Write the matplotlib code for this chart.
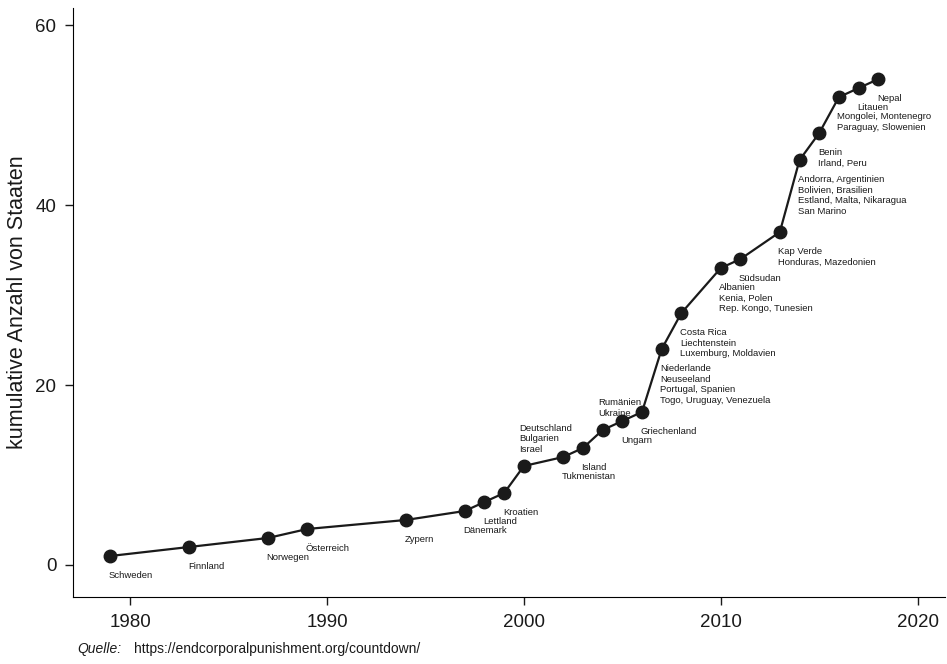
import matplotlib
matplotlib.use("Agg")
import matplotlib.pyplot as plt

# Jahr des Verbots und kumulative Anzahl der Staaten
years = [1979, 1983, 1987, 1989, 1994, 1997, 1998, 1999, 2000, 2002, 2003,
         2004, 2005, 2006, 2007, 2008, 2010, 2011, 2013, 2014, 2015, 2016,
         2017, 2018]
counts = [1, 2, 3, 4, 5, 6, 7, 8, 11, 12, 13, 15, 16, 17, 24, 28, 33, 34,
          37, 45, 48, 52, 53, 54]
labels = [
    ["Schweden"],
    ["Finnland"],
    ["Norwegen"],
    ["Österreich"],
    ["Zypern"],
    ["Dänemark"],
    ["Lettland"],
    ["Kroatien"],
    ["Deutschland", "Bulgarien", "Israel"],
    ["Tukmenistan"],
    ["Island"],
    ["Rumänien", "Ukraine"],
    ["Ungarn"],
    ["Griechenland"],
    ["Niederlande", "Neuseeland", "Portugal, Spanien", "Togo, Uruguay, Venezuela"],
    ["Costa Rica", "Liechtenstein", "Luxemburg, Moldavien"],
    ["Albanien", "Kenia, Polen", "Rep. Kongo, Tunesien"],
    ["Südsudan"],
    ["Kap Verde", "Honduras, Mazedonien"],
    ["Andorra, Argentinien", "Bolivien, Brasilien", "Estland, Malta, Nikaragua", "San Marino"],
    ["Benin", "Irland, Peru"],
    ["Mongolei, Montenegro", "Paraguay, Slowenien"],
    ["Litauen"],
    ["Nepal"],
]
above = [2000, 2004]

plt.rcParams["font.family"] = ["Liberation Sans", "DejaVu Sans"]

fig = plt.figure(figsize=(9.47, 6.64), dpi=100)
ax = fig.add_axes([0.0771, 0.1009, 0.921, 0.887])

ax.plot(years, counts, color="#1a1a1a", lw=1.6, marker="o", ms=9, zorder=3)

for yr, c, lab in zip(years, counts, labels):
    if yr in above:
        ax.annotate("\n".join(lab), xy=(yr, c), xytext=(-3.5, 9),
                    textcoords="offset points", ha="left", va="bottom",
                    fontsize=6.8, linespacing=1.2, color="#1a1a1a")
    else:
        ax.annotate("\n".join(lab), xy=(yr, c), xytext=(-1, -11),
                    textcoords="offset points", ha="left", va="top",
                    fontsize=6.8, linespacing=1.2, color="#1a1a1a")

ax.set_xlim(1977.1, 2021.4)
ax.set_ylim(-3.56, 61.9)
ax.set_xticks([1980, 1990, 2000, 2010, 2020])
ax.set_yticks([0, 20, 40, 60])
ax.spines["top"].set_visible(False)
ax.spines["right"].set_visible(False)
ax.tick_params(length=6, width=1, labelsize=13.5, colors="#1a1a1a", pad=6)
ax.set_ylabel("kumulative Anzahl von Staaten", fontsize=15.5, color="#1a1a1a", labelpad=5)

fig.text(0.082, 0.016, "Quelle:", fontsize=10, style="italic", color="#1a1a1a")
fig.text(0.142, 0.016, "https://endcorporalpunishment.org/countdown/", fontsize=10,
         color="#1a1a1a")

fig.savefig("out.png", dpi=100)
